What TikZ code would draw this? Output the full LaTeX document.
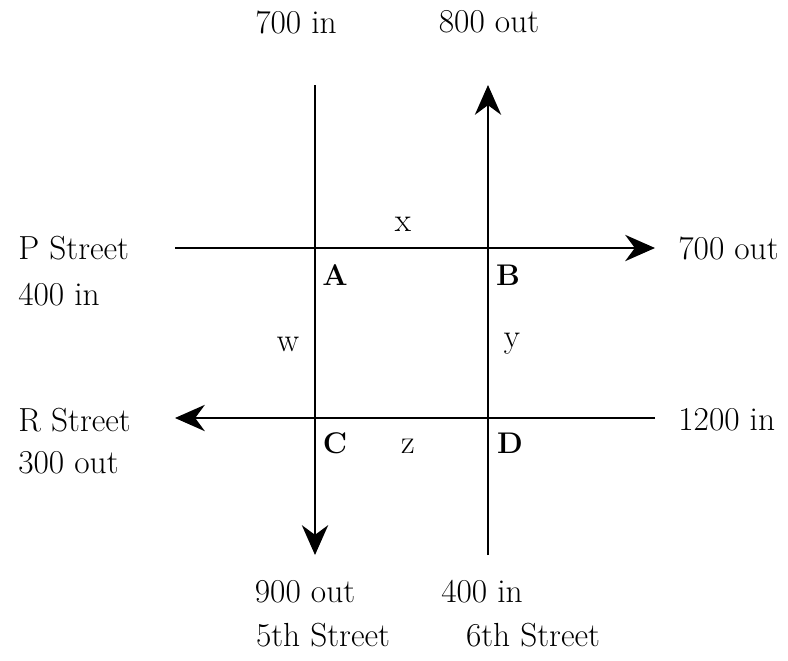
\documentclass[tikz,border=0pt]{standalone}
\usetikzlibrary{arrows.meta}
\begin{document}
\begin{tikzpicture}[x=0.02cm,y=-0.02cm,
   txt/.style={font=\fontsize{19}{22}\selectfont, inner sep=0pt},
   crn/.style={font=\fontsize{17}{20}\selectfont\bfseries, inner sep=0pt},
   street/.style={line width=0.9pt},
   head/.style={-{Stealth[length=17pt,width=15pt]}}]
   \useasboundingbox (0,0) rectangle (788,660);
   % street ends
   \coordinate (fivetop) at (315,85);
   \coordinate (fivebot) at (315,555);
   \coordinate (sixbot) at (488,555);
   \coordinate (sixtop) at (488,85);
   \coordinate (pwest) at (175,248);
   \coordinate (peast) at (655,248);
   \coordinate (reast) at (655,418);
   \coordinate (rwest) at (175,418);
   \draw[street,head] (fivetop) -- (fivebot);
   \draw[street,head] (sixbot) -- (sixtop);
   \draw[street,head] (pwest) -- (peast);
   \draw[street,head] (reast) -- (rwest);
   % flows
   \node[txt] (in5) at (296,22) {700 in};
   \node[txt] (out6) at (489,22) {800 out};
   \node[txt,anchor=west] (pname) at (18,248) {P Street};
   \node[txt,anchor=west] (pin) at (18,295) {400 in};
   \node[txt,anchor=west] (pout) at (678,248) {700 out};
   \node[txt,anchor=west] (rname) at (18,420) {R Street};
   \node[txt,anchor=west] (rout) at (18,463) {300 out};
   \node[txt,anchor=west] (rin) at (678,420) {1200 in};
   \node[txt] (out5) at (305,592) {900 out};
   \node[txt] (in6) at (482,592) {400 in};
   \node[txt] (name5) at (323,635) {5th Street};
   \node[txt] (name6) at (533,635) {6th Street};
   % intersections
   \node[crn] (A) at (335,275) {A};
   \node[crn] (B) at (508,275) {B};
   \node[crn] (C) at (335,443) {C};
   \node[crn] (D) at (510,443) {D};
   \node[txt] (x) at (403,224) {x};
   \node[txt] (w) at (288,344) {w};
   \node[txt] (y) at (512,344) {y};
   \node[txt] (z) at (408,446) {z};
\end{tikzpicture}
\end{document}
